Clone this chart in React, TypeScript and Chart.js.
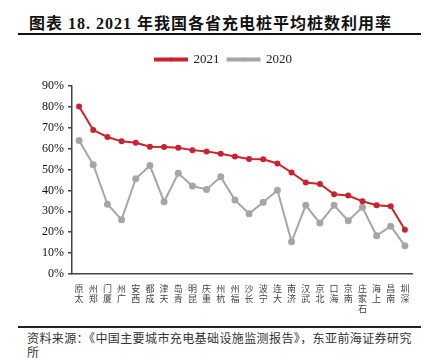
import React, { useEffect, useRef } from "react";
import { Chart, registerables } from "chart.js";

Chart.register(...registerables);

const categories = ["太原","郑州","厦门","广州","西安","成都","天津","青岛","昆明","重庆","杭州","福州","长沙","宁波","大连","济南","武汉","北京","海口","南京","石家庄","上海","南昌","深圳"];
const util2021 = [80.2, 68.9, 65.6, 63.5, 62.8, 60.9, 60.8, 60.4, 59.3, 58.7, 57.6, 56.3, 55.1, 54.9, 52.9, 48.6, 43.8, 43.1, 38.2, 37.6, 34.8, 32.9, 32.4, 21.2];
const util2020 = [63.9, 52.3, 33.4, 26.0, 45.6, 51.9, 34.6, 48.2, 42.1, 40.5, 46.5, 35.4, 28.9, 34.3, 40.1, 15.4, 32.9, 24.4, 32.9, 25.5, 31.9, 18.3, 22.9, 13.5];
const seriesNames = ["2021", "2020"];
const yMin = 0;
const yMax = 90;
const yStep = 10;

const titleText = "图表 18. 2021 年我国各省充电桩平均桩数利用率";
const sourceLine1 = "资料来源：《中国主要城市充电基础设施监测报告》，东亚前海证券研究";
const sourceLine2 = "所";

const RED = "#C8232E";
const GRAY = "#A6A6A6";

const legendMarkers = {
  id: "legendMarkers",
  beforeInit(chart: any) {
    const legend = chart.legend;
    if (!legend) return;
    const origFit = legend.fit;
    legend.fit = function () {
      origFit.call(this);
      this.height += 10;
    };
  },
  afterDraw(chart: any) {
    const legend = chart.legend;
    if (!legend || !legend.legendHitBoxes) return;
    const ctx = chart.ctx;
    const bw = legend.options.labels.boxWidth;
    legend.legendHitBoxes.forEach((hb: any, i: number) => {
      const ds = chart.data.datasets[i];
      ctx.save();
      ctx.fillStyle = ds.borderColor;
      ctx.beginPath();
      ctx.arc(hb.left + bw / 2, hb.top + hb.height / 2, 2, 0, Math.PI * 2);
      ctx.fill();
      ctx.restore();
    });
  },
};

export default function App() {
  const ref = useRef<HTMLCanvasElement | null>(null);

  useEffect(() => {
    if (!ref.current) return;
    const chart = new Chart(ref.current, {
      type: "line",
      data: {
        labels: categories.map((c) => Array.from(c).reverse()),
        datasets: [
          {
            label: seriesNames[0],
            data: util2021,
            borderColor: RED,
            backgroundColor: RED,
            borderWidth: 2,
            pointRadius: 2,
            pointBackgroundColor: RED,
            pointBorderColor: RED,
            tension: 0,
          },
          {
            label: seriesNames[1],
            data: util2020,
            borderColor: GRAY,
            backgroundColor: GRAY,
            borderWidth: 2,
            pointRadius: 2.5,
            pointBackgroundColor: GRAY,
            pointBorderColor: GRAY,
            tension: 0,
          },
        ],
      },
      options: {
        animation: false,
        responsive: false,
        maintainAspectRatio: false,
        layout: { padding: { left: 0, right: 8, top: 0, bottom: 0 } },
        plugins: {
          legend: {
            display: true,
            position: "top",
            labels: {
              boxWidth: 32,
              boxHeight: 2,
              padding: 8,
              color: "#222",
              font: { family: "'Liberation Serif', serif", size: 13 },
            },
          },
          tooltip: { enabled: false },
        },
        scales: {
          x: {
            offset: true,
            grid: { display: false, drawTicks: false },
            border: { display: true, color: "#444", width: 1.5 },
            ticks: {
              autoSkip: false,
              maxRotation: 0,
              minRotation: 0,
              padding: 9,
              color: "#444",
              font: { family: "'Noto Sans CJK SC', sans-serif", size: 9, lineHeight: 1.15 },
            },
            afterFit: (s: any) => { s.height = 48; },
          },
          y: {
            min: yMin,
            max: yMax,
            ticks: {
              stepSize: yStep,
              padding: 4,
              color: "#111",
              font: { family: "'Liberation Serif', serif", size: 12 },
              callback: (v: any) => v + "%",
            },
            grid: { display: true, drawOnChartArea: false, drawTicks: true, tickLength: 4, color: "#444", lineWidth: 1.5 },
            border: { display: true, color: "#444", width: 1.5 },
            afterFit: (s: any) => { s.width = 37; },
          },
        },
      },
      plugins: [legendMarkers],
    });
    return () => chart.destroy();
  }, []);

  return (
    <div style={{ position: "absolute", left: 0, top: 0, width: 432, height: 359, background: "#fff", overflow: "hidden" }}>
      <div
        style={{
          position: "absolute",
          left: 18,
          top: 14,
          width: 403,
          height: 21,
          borderBottom: "2px solid #111",
          paddingLeft: 11,
          boxSizing: "border-box",
          fontFamily: "'Liberation Serif', 'Noto Sans CJK SC', serif",
          fontWeight: "bold",
          fontSize: 16,
          lineHeight: "19px",
          letterSpacing: 1,
          color: "#111",
          whiteSpace: "nowrap",
        }}
      >
        {titleText}
      </div>
      <canvas ref={ref} width={385} height={277} style={{ position: "absolute", left: 35, top: 45, width: 385, height: 277 }} />
      <div
        style={{
          position: "absolute",
          left: 18,
          top: 326,
          width: 403,
          borderTop: "2px solid #222",
          paddingLeft: 9,
          paddingTop: 3,
          boxSizing: "border-box",
          fontFamily: "'Noto Sans CJK SC', serif",
          fontSize: 12,
          lineHeight: "14px",
          letterSpacing: 0.4,
          color: "#333",
          whiteSpace: "nowrap",
        }}
      >
        <div>{sourceLine1}</div>
        <div>{sourceLine2}</div>
      </div>
    </div>
  );
}
